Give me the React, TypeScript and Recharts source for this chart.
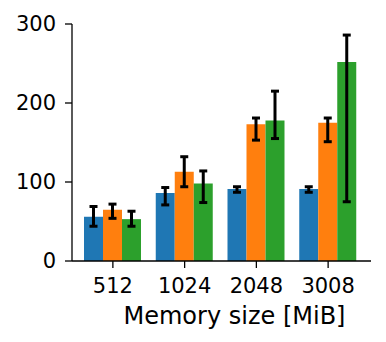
import React from "react"
import { Bar, BarChart, ErrorBar, XAxis, YAxis } from "recharts"

if (typeof document !== "undefined") document.body.style.margin = "0"

const categories = ["512", "1024", "2048", "3008"]
const yTicks = [0, 100, 200, 300]

// mean values per memory size
const blue = [56, 86, 91, 91]
const orange = [65, 113, 173, 175]
const green = [53, 98, 178, 252]

// errors as [below, above]
const blueErr = [[12, 13], [15, 7], [4, 3], [4, 3]]
const orangeErr = [[11, 7], [19, 19], [20, 8], [24, 6]]
const greenErr = [[9, 10], [24, 16], [23, 37], [177, 34]]

const data = categories.map((mem, i) => ({
  mem,
  blue: blue[i],
  orange: orange[i],
  green: green[i],
  blueErr: blueErr[i],
  orangeErr: orangeErr[i],
  greenErr: greenErr[i],
}))

const font = "DejaVu Sans"
const axisLine = { stroke: "#000", strokeWidth: 1.3 }
const tickLine = { stroke: "#000", strokeWidth: 1.3 }

function XLabel(props: any) {
  const vb = props.viewBox || {}
  return (
    <text
      x={vb.x + vb.width / 2 + 13}
      y={vb.y + vb.height - 18}
      textAnchor="middle"
      fontFamily={font}
      fontSize={24}
      fill="#000"
    >
      Memory size [MiB]
    </text>
  )
}

export default function App() {
  return (
    <BarChart
      width={386}
      height={342}
      data={data}
      margin={{ top: 24, right: 15, bottom: 0, left: 0 }}
      barSize={19}
      barGap={0}
    >
      <XAxis
        dataKey="mem"
        height={81}
        padding={{ left: 5, right: 7 }}
        axisLine={axisLine}
        tickLine={tickLine}
        tickSize={7}
        tickMargin={10}
        tick={{ fill: "#000", fontFamily: font, fontSize: 21 }}
        label={{ content: XLabel }}
      />
      <XAxis
        xAxisId="top"
        orientation="top"
        dataKey="mem"
        height={0}
        tick={false}
        tickLine={false}
        axisLine={axisLine}
      />
      <YAxis
        width={72}
        domain={[0, 300]}
        ticks={yTicks}
        allowDataOverflow
        axisLine={axisLine}
        tickLine={tickLine}
        tickSize={7}
        tickMargin={9}
        tick={{ fill: "#000", fontFamily: font, fontSize: 21 }}
      />
      <YAxis
        yAxisId="right"
        orientation="right"
        width={0}
        domain={[0, 300]}
        tick={false}
        tickLine={false}
        axisLine={axisLine}
      />
      <Bar dataKey="blue" fill="#1f77b4" isAnimationActive={false}>
        <ErrorBar dataKey="blueErr" direction="y" width={4} strokeWidth={3} stroke="#000" isAnimationActive={false} />
      </Bar>
      <Bar dataKey="orange" fill="#ff7f0e" isAnimationActive={false}>
        <ErrorBar dataKey="orangeErr" direction="y" width={4} strokeWidth={3} stroke="#000" isAnimationActive={false} />
      </Bar>
      <Bar dataKey="green" fill="#2ca02c" isAnimationActive={false}>
        <ErrorBar dataKey="greenErr" direction="y" width={4} strokeWidth={3} stroke="#000" isAnimationActive={false} />
      </Bar>
    </BarChart>
  )
}
